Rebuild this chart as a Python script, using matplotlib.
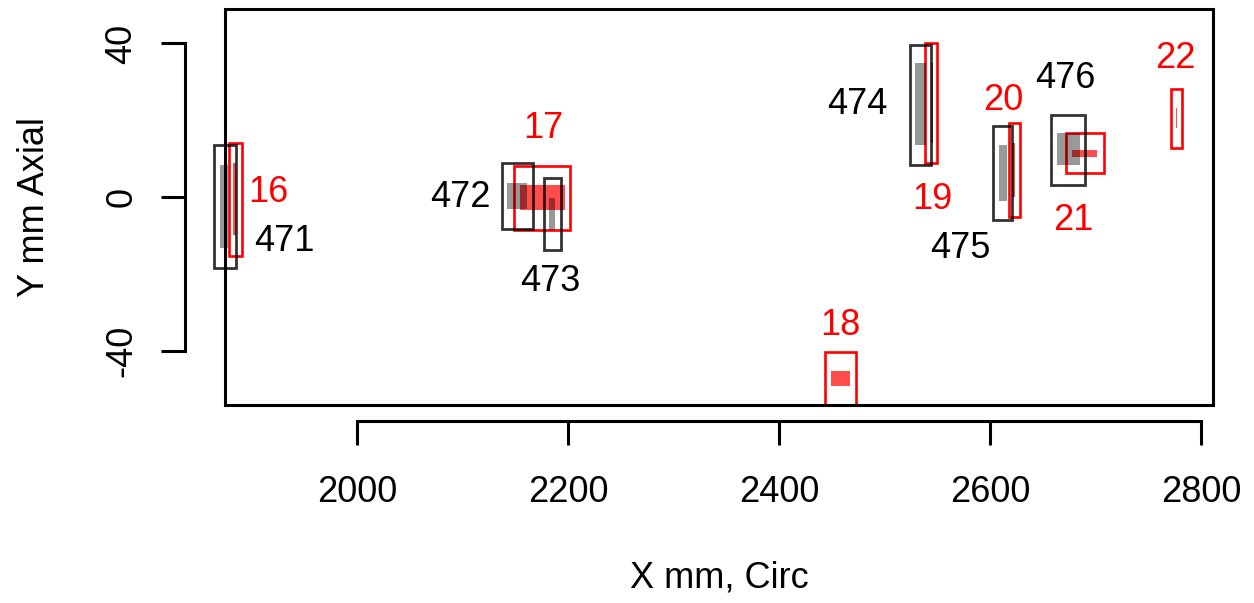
import matplotlib.pyplot as plt
from matplotlib.patches import Rectangle

plt.rcParams['font.family'] = ['Liberation Sans', 'DejaVu Sans']
plt.rcParams['axes.unicode_minus'] = False

# black objects (471-476): outer box and inner filled box, x0, x1, y0, y1
blk_names = ['471', '472', '473', '474', '475', '476']
blk_out_x0 = [1864.6, 2137.1, 2176.8, 2523.7, 2602.8, 2658.1]
blk_out_x1 = [1884.9, 2167.1, 2193.3, 2543.6, 2621.2, 2690.0]
blk_out_y0 = [-18.5, -8.2, -13.8, 8.3, -6.0, 3.1]
blk_out_y1 = [13.5, 8.9, 4.9, 39.7, 18.5, 21.5]
blk_in_x0 = [1870.0, 2142.6, 2182.2, 2528.8, 2608.5, 2663.8]
blk_in_x1 = [1877.3, 2160.9, 2187.9, 2539.3, 2615.8, 2685.0]
blk_in_y0 = [-13.3, -3.1, -8.6, 13.5, -1.0, 8.3]
blk_in_y1 = [8.3, 3.8, -0.2, 34.8, 13.5, 16.6]
blk_lab_x = [1930.7, 2097.7, 2183.1, 2474.4, 2572.1, 2671.7]
blk_lab_y = [-11.4, 0.0, -21.9, 24.2, -13.3, 31.0]

# red objects (16-22)
red_names = ['16', '17', '18', '19', '20', '21', '22']
red_out_x0 = [1878.8, 2148.3, 2444.0, 2538.2, 2618.0, 2671.7, 2771.3]
red_out_x1 = [1890.6, 2202.1, 2473.1, 2550.0, 2628.1, 2708.0, 2782.4]
red_out_y0 = [-15.3, -8.4, -54.0, 8.9, -5.1, 6.3, 12.7]
red_out_y1 = [14.1, 8.2, -40.2, 40.1, 19.2, 16.7, 28.1]
red_in_x0 = [1882.0, 2154.0, 2449.4, 2544.3, 2621.2, 2677.4, 2776.0]
red_in_x1 = [1885.0, 2197.3, 2467.7, 2546.2, 2623.7, 2701.8, 2777.6]
red_in_y0 = [-9.9, -3.2, -49.2, 14.0, 0.1, 10.5, 17.9]
red_in_y1 = [8.9, 3.1, -45.2, 35.0, 14.0, 12.4, 23.1]
red_lab_x = [1915.6, 2176.5, 2458.3, 2545.5, 2612.9, 2679.3, 2776.1]
red_lab_y = [1.3, 18.0, -33.3, -0.5, 25.2, -6.0, 36.2]

FS = 26

fig = plt.figure(figsize=(12.54, 6.03), dpi=100)
ax = fig.add_axes([225/1254, 1-405/603, (1213-225)/1254, (405-9)/603])
ax.set_xlim(1874.8, 2811.4)
ax.set_ylim(-54.05, 48.97)

# red objects first
for i in range(len(red_names)):
    ax.add_patch(Rectangle((red_in_x0[i], red_in_y0[i]), red_in_x1[i]-red_in_x0[i],
                           red_in_y1[i]-red_in_y0[i], facecolor='red', alpha=0.7,
                           edgecolor='none', clip_on=False))
    ax.add_patch(Rectangle((red_out_x0[i], red_out_y0[i]), red_out_x1[i]-red_out_x0[i],
                           red_out_y1[i]-red_out_y0[i], fill=False, edgecolor='red',
                           lw=1.9, clip_on=False))
    ax.text(red_lab_x[i], red_lab_y[i], red_names[i], color='red', fontsize=FS,
            ha='center', va='center')

for i in range(len(blk_names)):
    ax.add_patch(Rectangle((blk_in_x0[i], blk_in_y0[i]), blk_in_x1[i]-blk_in_x0[i],
                           blk_in_y1[i]-blk_in_y0[i], facecolor='black', alpha=0.4,
                           edgecolor='none', clip_on=False))
    ax.add_patch(Rectangle((blk_out_x0[i], blk_out_y0[i]), blk_out_x1[i]-blk_out_x0[i],
                           blk_out_y1[i]-blk_out_y0[i], fill=False, edgecolor='black',
                           alpha=0.8, lw=2.0, clip_on=False))
    ax.text(blk_lab_x[i], blk_lab_y[i], blk_names[i], color='black', fontsize=FS,
            ha='center', va='center')

# plot box
ax.add_patch(Rectangle((0, 0), 1, 1, transform=ax.transAxes, fill=False,
                       edgecolor='black', lw=2.2, clip_on=False, zorder=5))

for s in ['top', 'right']:
    ax.spines[s].set_visible(False)
ax.spines['left'].set_position(('outward', 40*0.72))
ax.spines['bottom'].set_position(('outward', 16*0.72))
ax.spines['left'].set_bounds(-40, 40)
ax.spines['bottom'].set_bounds(2000, 2800)
ax.spines['left'].set_linewidth(2.2)
ax.spines['bottom'].set_linewidth(2.2)

ax.set_xticks([2000, 2200, 2400, 2600, 2800])
ax.set_yticks([-40, 0, 40])
ax.set_yticklabels(['-40', '0', '40'], rotation=90, va='center')
ax.tick_params(axis='both', length=17, width=2.2, labelsize=FS)
ax.tick_params(axis='x', pad=22)
ax.tick_params(axis='y', pad=16)

fig.text(719/1254, 1-578/603, 'X mm, Circ', fontsize=FS, ha='center', va='center')
fig.text(35/1254, 1-207/603, 'Y mm Axial', fontsize=FS, ha='center', va='center',
         rotation=90)

fig.savefig('out.png', dpi=100)
